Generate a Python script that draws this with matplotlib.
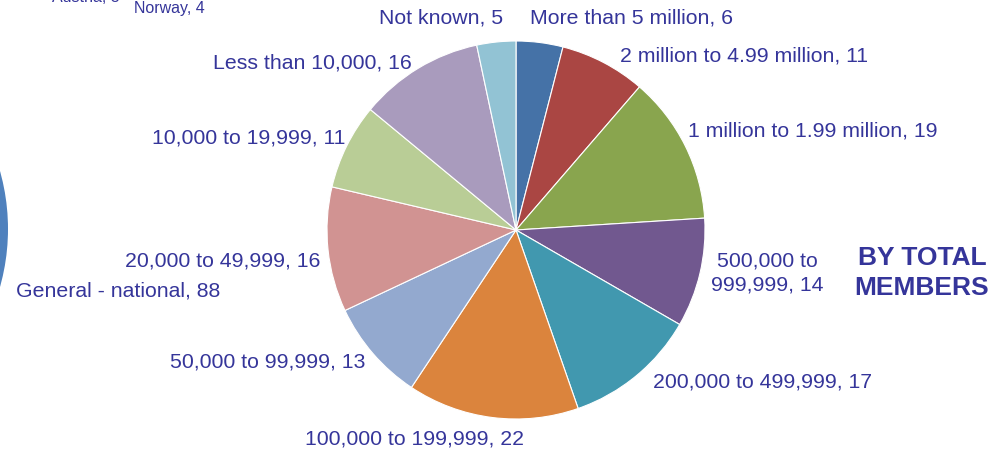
import matplotlib
matplotlib.use("Agg")
import matplotlib.pyplot as plt

W, H = 1007, 453

# ---- data ----
categories = ["More than 5 million", "2 million to 4.99 million", "1 million to 1.99 million",
              "500,000 to\n999,999", "200,000 to 499,999", "100,000 to 199,999",
              "50,000 to 99,999", "20,000 to 49,999", "10,000 to 19,999",
              "Less than 10,000", "Not known"]
values = [6, 11, 19, 14, 17, 22, 13, 16, 11, 16, 5]
colors = ["#4572A7", "#AA4643", "#89A54E", "#71588F", "#4198AF", "#DB843D",
          "#93A9CF", "#D19392", "#B9CD96", "#A99BBD", "#92C3D4"]

# fragment of neighbouring chart (left, clipped)
left_categories = ["General - national", "Austria", "Norway"]
left_values = [88, 3, 4]
left_color = "#4F81BD"

title_lines = ["BY TOTAL", "MEMBERS"]

TXT = "#35359A"
plt.rcParams["font.family"] = ["Liberation Sans", "DejaVu Sans"]

fig = plt.figure(figsize=(W / 100, H / 100), dpi=100)

def px(x, y):
    return x / W, 1 - y / H

# main pie: center (516,230) px, radius 189 px
cx, cy, r = 516, 230, 189
ax = fig.add_axes([(cx - r) / W, (H - cy - r) / H, 2 * r / W, 2 * r / H])
ax.pie(values, colors=colors, startangle=90, counterclock=False,
       wedgeprops=dict(edgecolor="white", linewidth=0.8))
ax.set_xlim(-1, 1); ax.set_ylim(-1, 1)
ax.set_aspect("equal"); ax.axis("off")

# left fragment pie (mostly off-canvas)
lcx, lcy, lr = -206, 229, 214
ax2 = fig.add_axes([(lcx - lr) / W, (H - lcy - lr) / H, 2 * lr / W, 2 * lr / H])
ax2.pie([left_values[0]], colors=[left_color], startangle=90, counterclock=False)
ax2.set_xlim(-1, 1); ax2.set_ylim(-1, 1)
ax2.set_aspect("equal"); ax2.axis("off")

# labels: (x, y, ha) in pixels
label_pos = [
    (530, 18, "left"),
    (620, 56, "left"),
    (688, 131, "left"),
    (767, 273, "center"),
    (653, 382, "left"),
    (524, 439, "right"),
    (365, 362, "right"),
    (320, 261, "right"),
    (345, 138, "right"),
    (412, 63, "right"),
    (503, 18, "right"),
]
for cat, val, (x, y, ha) in zip(categories, values, label_pos):
    fx, fy = px(x, y)
    fig.text(fx, fy, f"{cat}, {val}", ha=ha, va="center", fontsize=15.3,
             color=TXT, linespacing=1.3, multialignment="center")

left_pos = [(220, 291, "right", 15.3), (120, -2.5, "right", 11.5), (134, 8, "left", 11.5)]
for cat, val, (x, y, ha, fs) in zip(left_categories, left_values, left_pos):
    fx, fy = px(x, y)
    fig.text(fx, fy, f"{cat}, {val}", ha=ha, va="center", fontsize=fs, color=TXT)

fx, fy = px(922, 273)
fig.text(fx, fy, "\n".join(title_lines), ha="center", va="center", fontsize=19,
         fontweight="bold", color=TXT, linespacing=1.3)

fig.savefig("out.png", dpi=100)
